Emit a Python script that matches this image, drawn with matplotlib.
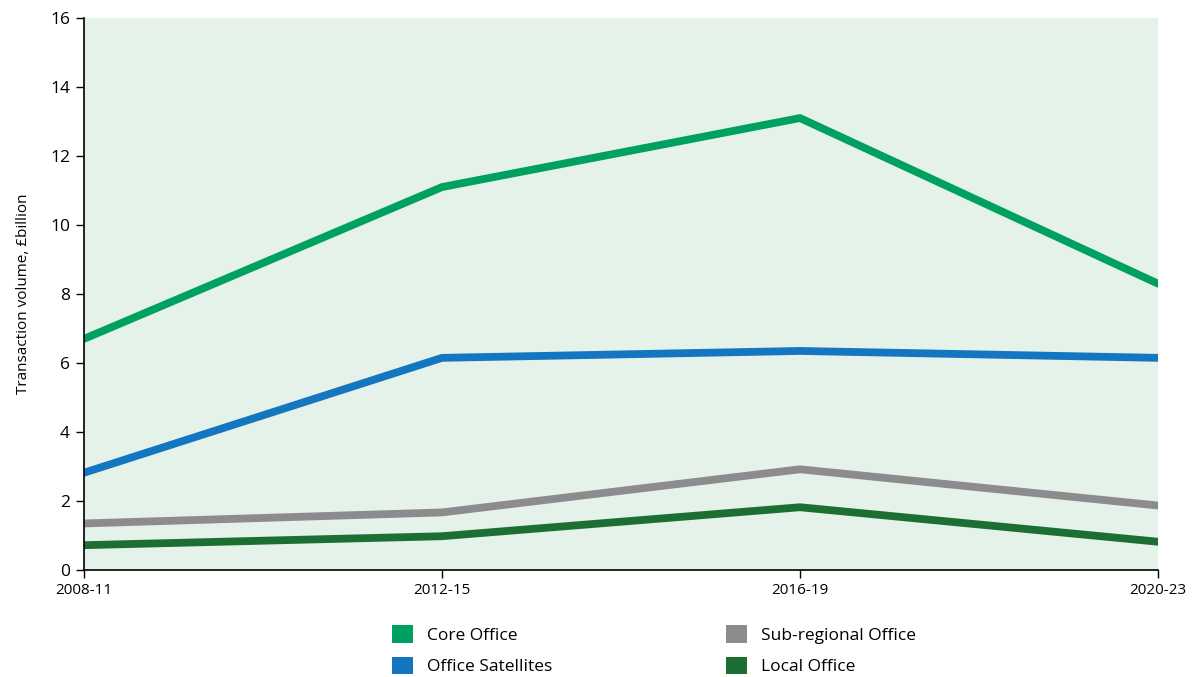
import matplotlib.pyplot as plt
from matplotlib.patches import Patch

plt.rcParams['font.family'] = ['Open Sans', 'DejaVu Sans']

# 交易量数据, £billion
periods = ['2008-11', '2012-15', '2016-19', '2020-23']
core_office = [6.7, 11.1, 13.1, 8.3]
office_satellites = [2.82, 6.15, 6.35, 6.15]
sub_regional = [1.35, 1.67, 2.92, 1.87]
local_office = [0.72, 0.98, 1.82, 0.82]

series = [
    ('Core Office', core_office, '#00a160'),
    ('Office Satellites', office_satellites, '#1476c0'),
    ('Sub-regional Office', sub_regional, '#8c8c8e'),
    ('Local Office', local_office, '#1d6e33'),
]

fig = plt.figure(figsize=(12, 6.77), dpi=100)
ax = fig.add_axes([0.07, 0.158, 0.895, 0.8154])
ax.set_facecolor('#e5f2ea')

x = list(range(len(periods)))
for name, vals, col in series:
    ax.plot(x, vals, color=col, lw=5.6, solid_capstyle='round', solid_joinstyle='round')

ax.set_xlim(0, 3)
ax.set_ylim(0, 16)
ax.set_xticks(x)
ax.set_xticklabels(periods, fontsize=11)
ax.set_yticks(range(0, 17, 2))
ax.tick_params(axis='y', labelsize=12.5, length=6, width=1, pad=4)
ax.tick_params(axis='x', length=6, width=1, pad=3)
ax.set_ylabel('Transaction volume, £billion', fontsize=11, labelpad=14)
for s in ['top', 'right']:
    ax.spines[s].set_visible(False)
for s in ['left', 'bottom']:
    ax.spines[s].set_linewidth(1.2)

# 图例, 两列 (按列填充)
handles = [Patch(facecolor=col, label=name) for name, vals, col in series]
fig.legend(handles=handles, ncol=2, frameon=False,
           loc='center', bbox_to_anchor=(0.545, 0.0395), fontsize=12.5,
           handlelength=1.2, handleheight=1.2, handletextpad=0.8,
           columnspacing=10.0, labelspacing=0.72)

plt.savefig('out.png')
